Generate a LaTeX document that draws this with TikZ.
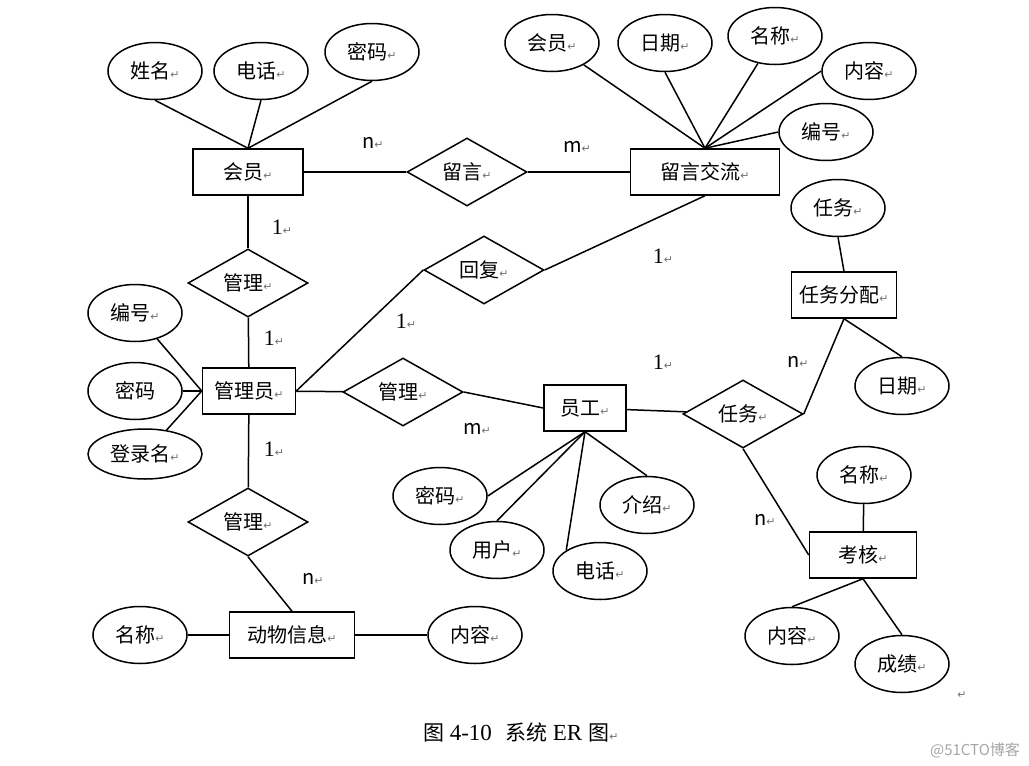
\documentclass[tikz,border=0pt]{standalone}
\usepackage{fontspec}
\usepackage{xcolor}
\usepackage{tikz}
\usetikzlibrary{calc}
\usetikzlibrary{shapes}
\usetikzlibrary{shapes.geometric}
\newfontfamily\cjk{Noto Sans CJK SC}
\newfontfamily\symf{DejaVu Sans}
\newfontfamily\serf{Liberation Serif}
\newcommand{\pmk}{{\symf\fontsize{5.5}{5.5}\selectfont\color{black!55}↵}}
\tikzstyle{ent} = [rectangle, draw=black, minimum height=23pt, inner sep=1pt]
\tikzstyle{rel} = [diamond, draw=black, aspect=1.75, minimum width=60pt, minimum height=34pt, inner sep=1pt]
\tikzstyle{att} = [ellipse, draw=black, minimum width=47pt, minimum height=28.5pt, inner sep=0]
\tikzstyle{card} = [draw=none, inner sep=0]
\begin{document}
\begin{tikzpicture}[x=0.5pt, y=-0.5pt, line width=0.75pt, font=\cjk\fontsize{10}{12}\selectfont]
\useasboundingbox (0,0) rectangle (1029,766);
% entities
\node [ent, minimum width=55pt] (HY) at (248,172) {会员\pmk};
\node [ent, minimum width=74.5pt] (LYJL) at (705,172) {留言交流\pmk};
\node [ent, minimum width=46.5pt] (GLY) at (249,391) {管理员\pmk};
\node [ent, minimum width=62.5pt] (DWXX) at (292,635) {动物信息\pmk};
\node [ent, minimum width=41pt] (YG) at (585,408) {员工\pmk};
\node [ent, minimum width=52.5pt] (RWFP) at (844,295) {任务分配\pmk};
\node [ent, minimum width=53.5pt] (KH) at (863,555) {考核\pmk};
% relations
\node [rel] (LY) at (467,172) {留言\pmk};
\node [rel] (GL1) at (248,283) {管理\pmk};
\node [rel] (HF) at (484,270) {回复\pmk};
\node [rel] (GL2) at (403,392) {管理\pmk};
\node [rel] (GL3) at (248,522) {管理\pmk};
\node [rel] (RW) at (743,414) {任务\pmk};
% attributes
\node [att] (XM) at (155,71) {姓名\pmk};
\node [att] (DH1) at (261,71) {电话\pmk};
\node [att] (MM1) at (372,52) {密码\pmk};
\node [att] (HY2) at (552,43) {会员\pmk};
\node [att] (RQ1) at (665,43) {日期\pmk};
\node [att] (MC1) at (775,36) {名称\pmk};
\node [att] (NR1) at (869,71) {内容\pmk};
\node [att] (BH1) at (826,132) {编号\pmk};
\node [att] (BH2) at (135,313) {编号\pmk};
\node [att] (MM2) at (135,391) {密码};
\node [att, minimum width=57pt, minimum height=25pt] (DLM) at (145,454) {登录名\pmk};
\node [att] (MC2) at (140,635) {名称\pmk};
\node [att] (NR2) at (475,635) {内容\pmk};
\node [att] (MM3) at (440,496) {密码\pmk};
\node [att] (YH) at (497,550) {用户\pmk};
\node [att] (DH2) at (600,571) {电话\pmk};
\node [att] (JS) at (647,505) {介绍\pmk};
\node [att] (RW2) at (838,208) {任务\pmk};
\node [att] (RQ2) at (902,386) {日期\pmk};
\node [att] (MC3) at (864,475) {名称\pmk};
\node [att] (NR3) at (792,636) {内容\pmk};
\node [att] (CJ) at (902,664) {成绩\pmk};
% cardinalities
\node [card] (C1) at (373,143) {n\pmk};
\node [card] (C2) at (577,147) {m\pmk};
\node [card] (C3) at (282,227) {{\serf\fontsize{11}{12}\selectfont 1}\pmk};
\node [card] (C4) at (406,321) {{\serf\fontsize{11}{12}\selectfont 1}\pmk};
\node [card] (C5) at (663,256) {{\serf\fontsize{11}{12}\selectfont 1}\pmk};
\node [card] (C6) at (274,338) {{\serf\fontsize{11}{12}\selectfont 1}\pmk};
\node [card] (C7) at (274,449) {{\serf\fontsize{11}{12}\selectfont 1}\pmk};
\node [card] (C8) at (477,429) {m\pmk};
\node [card] (C9) at (313,579) {n\pmk};
\node [card] (C10) at (663,362) {{\serf\fontsize{11}{12}\selectfont 1}\pmk};
\node [card] (C11) at (798,362) {n\pmk};
\node [card] (C12) at (765,520) {n\pmk};
% caption
\node [card, anchor=west, font=\cjk\fontsize{10.5}{12}\selectfont] (CAP) at (423,732) {图\hspace{2.5pt}{\serf\fontsize{11.5}{12}\selectfont 4-10}\hspace{7pt}系统\hspace{2.5pt}{\serf\fontsize{11.5}{12}\selectfont ER}\hspace{3pt}图\pmk};
\node [card] (END) at (962,695) {\pmk};
\node [card, text=black!35, font=\cjk\fontsize{7.5}{9}\selectfont] (WM) at (975,750) {@51CTO博客};
% connectors
\draw (XM.south) -- (HY.north);
\draw (DH1.south) -- (HY.north);
\draw (MM1.south) -- (HY.north);
\draw (HY2) -- (LYJL.north);
\draw (RQ1.south) -- (LYJL.north);
\draw (MC1) -- (LYJL.north);
\draw (NR1.west) -- (LYJL.north);
\draw (BH1.west) -- (LYJL.north);
\draw (HY) -- (LY);
\draw (LY) -- (LYJL);
\draw (HY) -- (GL1);
\draw (GL1) -- (GLY);
\draw (GLY.east) -- (HF.west);
\draw (HF.east) -- (LYJL.south);
\draw (BH2) -- (GLY.west);
\draw (MM2) -- (GLY.west);
\draw (DLM) -- (GLY.west);
\draw (GLY) -- (GL2);
\draw (GL2.east) -- (YG.west);
\draw (GLY) -- (GL3);
\draw (GL3.south) -- (DWXX.north);
\draw (MC2) -- (DWXX);
\draw (DWXX) -- (NR2);
\draw (MM3.east) -- (YG.south);
\draw (YH.north) -- (YG.south);
\draw (DH2.north west) -- (YG.south);
\draw (JS.north) -- (YG.south);
\draw (YG) -- (RW);
\draw (RW.east) -- (RWFP.south);
\draw (RW.south) -- (KH.west);
\draw (RW2.south) -- (RWFP.north);
\draw (RWFP.south) -- (RQ2.north);
\draw (MC3) -- (KH);
\draw (NR3.north) -- (KH.south);
\draw (CJ.north) -- (KH.south);
\end{tikzpicture}
\end{document}
